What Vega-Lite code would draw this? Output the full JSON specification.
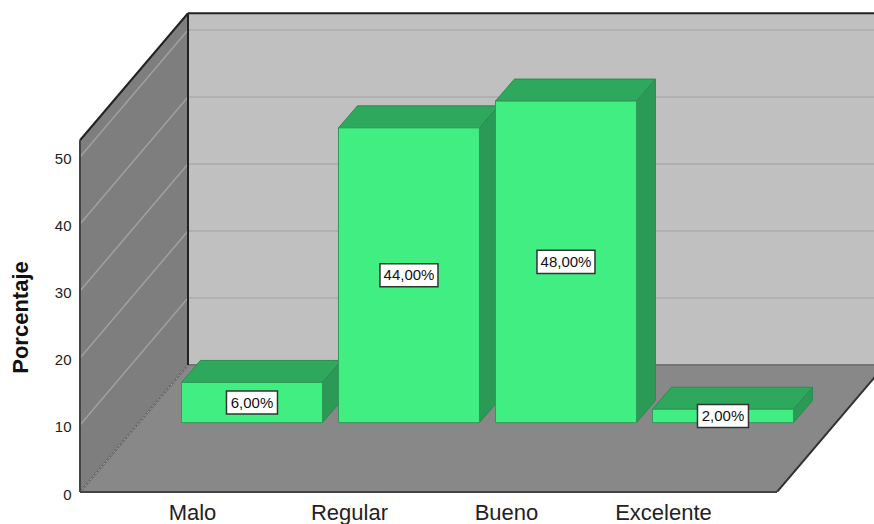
{
"$schema":"https://vega.github.io/schema/vega-lite/v6.json",
"width":794,"height":492,
"autosize":"none",
"padding":{"left":80,"top":0,"right":0,"bottom":32},
"background":"white",
"config":{"view":{"stroke":null},"font":"Liberation Sans"},
"datasets":{
"bars":[{"categoria":"Malo","porcentaje":6,"etiqueta":"6,00%"},{"categoria":"Regular","porcentaje":44,"etiqueta":"44,00%"},{"categoria":"Bueno","porcentaje":48,"etiqueta":"48,00%"},{"categoria":"Excelente","porcentaje":2,"etiqueta":"2,00%"}],
"levels":[{"nivel":10},{"nivel":20},{"nivel":30},{"nivel":40},{"nivel":50}],
"depth":[{"d":0},{"d":1}],
"one":[{"pieza":"marco"}]
},
"layer":[
{"data":{"name":"one"},"transform":[{"calculate":"-0.02548","as":"a"},{"calculate":"4.34395","as":"b"},{"calculate":"18.955","as":"c"},{"calculate":"71.455","as":"e"}],
"mark":{"type":"rect","fill":"#c0c0c0"},
"encoding":{
"x":{"field":"a","type":"quantitative","scale":{"domain":[-0.71338,4.34395]},"title":null,
"axis":{"values":[0,1,2,3],"labelExpr":"['Malo','Regular','Bueno','Excelente'][datum.value]","domain":false,"ticks":false,"grid":false,"labelFontSize":22,"labelColor":"#222","labelPadding":10,"labelFont":"Liberation Sans"}},
"x2":{"field":"b"},
"y":{"field":"c","type":"quantitative","scale":{"domain":[0,73.4328]},"title":"Porcentaje",
"axis":{"values":[0,10,20,30,40,50],"domain":false,"ticks":false,"grid":false,"labelFontSize":15,"labelColor":"#222","labelPadding":9,"labelOffset":2,"labelFont":"Liberation Sans","titleFont":"Liberation Sans","titleFontSize":22,"titleFontWeight":"bold","titleColor":"#111","titleX":-48,"titleY":317,"titleAngle":-90}},
"y2":{"field":"e"}}},
{"data":{"name":"depth"},"transform":[{"calculate":"-0.71338+datum.d*0.6879","as":"px"},{"calculate":"datum.d*18.955","as":"y0"},{"calculate":"52.5+datum.d*18.955","as":"y1"}],
"mark":{"type":"area","fill":"#7e7e7e","orient":"vertical"},
"encoding":{"x":{"field":"px","type":"quantitative","scale":{"domain":[-0.71338,4.34395]}},"y":{"field":"y0","type":"quantitative","scale":{"domain":[0,73.4328]}},"y2":{"field":"y1"}}},
{"data":{"name":"depth"},"transform":[{"calculate":"-0.71338+datum.d*0.6879","as":"px0"},{"calculate":"datum.d*18.955","as":"py"},{"calculate":"3.7261+datum.d*0.6879","as":"px1"}],
"mark":{"type":"area","fill":"#888888","orient":"horizontal","clip":true},
"encoding":{"y":{"field":"py","type":"quantitative","scale":{"domain":[0,73.4328]}},"x":{"field":"px0","type":"quantitative","scale":{"domain":[-0.71338,4.34395]}},"x2":{"field":"px1"}}},
{"data":{"name":"levels"},"transform":[{"calculate":"datum.nivel+18.955","as":"back"},{"calculate":"-0.02548","as":"a"},{"calculate":"4.34395","as":"b"}],
"mark":{"type":"rule","stroke":"#b0b0b0","strokeWidth":2},
"encoding":{"x":{"field":"a","type":"quantitative","scale":{"domain":[-0.71338,4.34395]}},"x2":{"field":"b"},"y":{"field":"back","type":"quantitative","scale":{"domain":[0,73.4328]}}}},
{"data":{"name":"levels"},"transform":[{"calculate":"datum.nivel+18.955","as":"back"},{"calculate":"-0.71338","as":"a"},{"calculate":"-0.02548","as":"b"}],
"mark":{"type":"rule","stroke":"#a0a0a0","strokeWidth":1.5},
"encoding":{"x":{"field":"a","type":"quantitative","scale":{"domain":[-0.71338,4.34395]}},"x2":{"field":"b"},"y":{"field":"nivel","type":"quantitative","scale":{"domain":[0,73.4328]}},"y2":{"field":"back"}}},
{"data":{"name":"depth"},"transform":[{"calculate":"-0.71338+datum.d*0.6879","as":"px"},{"calculate":"datum.d*18.955","as":"py"}],
"mark":{"type":"line","stroke":"#6a6a6a","strokeWidth":2},
"encoding":{"x":{"field":"px","type":"quantitative","scale":{"domain":[-0.71338,4.34395]}},"y":{"field":"py","type":"quantitative","scale":{"domain":[0,73.4328]}}}},
{"data":{"name":"depth"},"transform":[{"calculate":"-0.71338+datum.d*0.6879","as":"px"},{"calculate":"datum.d*18.955","as":"py"}],
"mark":{"type":"line","stroke":"#b0b0b0","strokeWidth":1,"strokeDash":[2,2]},
"encoding":{"x":{"field":"px","type":"quantitative","scale":{"domain":[-0.71338,4.34395]}},"y":{"field":"py","type":"quantitative","scale":{"domain":[0,73.4328]}}}},
{"data":{"name":"depth"},"transform":[{"calculate":"-0.02548+datum.d*4.36943","as":"px"},{"calculate":"18.955","as":"py"}],
"mark":{"type":"line","stroke":"#757575","strokeWidth":2},
"encoding":{"x":{"field":"px","type":"quantitative","scale":{"domain":[-0.71338,4.34395]}},"y":{"field":"py","type":"quantitative","scale":{"domain":[0,73.4328]}}}},
{"data":{"name":"depth"},"transform":[{"calculate":"-0.02548+datum.d*4.36943","as":"px"},{"calculate":"71.455","as":"py"}],
"mark":{"type":"line","stroke":"#222","strokeWidth":2},
"encoding":{"x":{"field":"px","type":"quantitative","scale":{"domain":[-0.71338,4.34395]}},"y":{"field":"py","type":"quantitative","scale":{"domain":[0,73.4328]}}}},
{"data":{"name":"depth"},"transform":[{"calculate":"-0.02548","as":"px"},{"calculate":"18.955+datum.d*52.5","as":"py"}],
"mark":{"type":"line","stroke":"#222","strokeWidth":2,"orient":"vertical"},
"encoding":{"x":{"field":"px","type":"quantitative","scale":{"domain":[-0.71338,4.34395]}},"y":{"field":"py","type":"quantitative","scale":{"domain":[0,73.4328]}}}},
{"data":{"name":"depth"},"transform":[{"calculate":"-0.71338+datum.d*0.6879","as":"px"},{"calculate":"52.5+datum.d*18.955","as":"py"}],
"mark":{"type":"line","stroke":"#222","strokeWidth":2},
"encoding":{"x":{"field":"px","type":"quantitative","scale":{"domain":[-0.71338,4.34395]}},"y":{"field":"py","type":"quantitative","scale":{"domain":[0,73.4328]}}}},
{"data":{"name":"depth"},"transform":[{"calculate":"-0.71338","as":"px"},{"calculate":"datum.d*52.5","as":"py"}],
"mark":{"type":"line","stroke":"#444","strokeWidth":2,"orient":"vertical"},
"encoding":{"x":{"field":"px","type":"quantitative","scale":{"domain":[-0.71338,4.34395]}},"y":{"field":"py","type":"quantitative","scale":{"domain":[0,73.4328]}}}},
{"data":{"name":"depth"},"transform":[{"calculate":"-0.71338+datum.d*4.43948","as":"px"},{"calculate":"0","as":"py"}],
"mark":{"type":"line","stroke":"#444","strokeWidth":2},
"encoding":{"x":{"field":"px","type":"quantitative","scale":{"domain":[-0.71338,4.34395]}},"y":{"field":"py","type":"quantitative","scale":{"domain":[0,73.4328]}}}},
{"data":{"name":"depth"},"transform":[{"calculate":"3.7261+datum.d*0.6879","as":"px"},{"calculate":"datum.d*18.955","as":"py"}],
"mark":{"type":"line","stroke":"#333","strokeWidth":2,"clip":true},
"encoding":{"x":{"field":"px","type":"quantitative","scale":{"domain":[-0.71338,4.34395]}},"y":{"field":"py","type":"quantitative","scale":{"domain":[0,73.4328]}}}},
{"data":{"name":"bars"},"transform":[
{"calculate":"indexof(['Malo','Regular','Bueno','Excelente'],datum.categoria)+0.382","as":"cx"},
{"calculate":"[0,1]","as":"d"},{"flatten":["d"]},
{"calculate":"datum.cx+0.449+datum.d*0.121","as":"px"},
{"calculate":"10.35+datum.d*3.284","as":"y0"},
{"calculate":"10.35+datum.porcentaje+datum.d*3.284","as":"y1"}],
"mark":{"type":"area","orient":"vertical","fill":"#2a9a56","stroke":"#2f8a50","strokeWidth":1},
"encoding":{"detail":{"field":"categoria"},"x":{"field":"px","type":"quantitative","scale":{"domain":[-0.71338,4.34395]}},"y":{"field":"y0","type":"quantitative","scale":{"domain":[0,73.4328]}},"y2":{"field":"y1"}}},
{"data":{"name":"bars"},"transform":[
{"calculate":"indexof(['Malo','Regular','Bueno','Excelente'],datum.categoria)+0.382","as":"cx"},
{"calculate":"[0,1]","as":"d"},{"flatten":["d"]},
{"calculate":"datum.cx-0.449+datum.d*0.121","as":"px0"},
{"calculate":"datum.cx+0.449+datum.d*0.121","as":"px1"},
{"calculate":"10.35+datum.porcentaje+datum.d*3.284","as":"py"}],
"mark":{"type":"area","orient":"horizontal","fill":"#2ea85c","stroke":"#2f8a50","strokeWidth":1},
"encoding":{"detail":{"field":"categoria"},"y":{"field":"py","type":"quantitative","scale":{"domain":[0,73.4328]}},"x":{"field":"px0","type":"quantitative","scale":{"domain":[-0.71338,4.34395]}},"x2":{"field":"px1"}}},
{"data":{"name":"bars"},"transform":[
{"calculate":"indexof(['Malo','Regular','Bueno','Excelente'],datum.categoria)+0.382","as":"cx"},
{"calculate":"datum.cx-0.449","as":"px0"},{"calculate":"datum.cx+0.449","as":"px1"},
{"calculate":"10.35+datum.porcentaje","as":"top"},{"calculate":"10.35","as":"base"}],
"mark":{"type":"rect","fill":"#41ee82","stroke":"#2f9a58","strokeWidth":1},
"encoding":{"x":{"field":"px0","type":"quantitative","scale":{"domain":[-0.71338,4.34395]}},"x2":{"field":"px1"},"y":{"field":"base","type":"quantitative","scale":{"domain":[0,73.4328]}},"y2":{"field":"top"}}},
{"data":{"name":"bars"},"transform":[
{"calculate":"indexof(['Malo','Regular','Bueno','Excelente'],datum.categoria)+0.382","as":"cx"},
{"calculate":"(25.5+(length(datum.etiqueta)-5)*3.5)/157","as":"hw"},
{"calculate":"datum.cx-datum.hw","as":"px0"},{"calculate":"datum.cx+datum.hw","as":"px1"},
{"calculate":"10.35+datum.porcentaje/2","as":"mid"},
{"calculate":"datum.mid-1.72","as":"y0"},{"calculate":"datum.mid+1.72","as":"y1"}],
"mark":{"type":"rect","fill":"white","stroke":"#333","strokeWidth":1.5},
"encoding":{"x":{"field":"px0","type":"quantitative","scale":{"domain":[-0.71338,4.34395]}},"x2":{"field":"px1"},"y":{"field":"y0","type":"quantitative","scale":{"domain":[0,73.4328]}},"y2":{"field":"y1"}}},
{"data":{"name":"bars"},"transform":[
{"calculate":"indexof(['Malo','Regular','Bueno','Excelente'],datum.categoria)+0.382","as":"cx"},
{"calculate":"10.35+datum.porcentaje/2","as":"mid"}],
"mark":{"type":"text","fontSize":15,"font":"Liberation Sans","color":"#111","baseline":"middle","align":"center"},
"encoding":{"x":{"field":"cx","type":"quantitative","scale":{"domain":[-0.71338,4.34395]}},"y":{"field":"mid","type":"quantitative","scale":{"domain":[0,73.4328]}},"text":{"field":"etiqueta"}}}
]
}
